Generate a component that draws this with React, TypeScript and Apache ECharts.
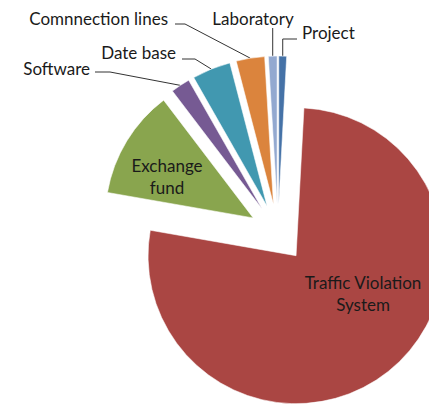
import React, { useEffect, useRef } from 'react';
import * as echarts from 'echarts';

const categories = ['Project', 'Traffic Violation System', 'Exchange fund', 'Software', 'Date base', 'Comnnection lines', 'Laboratory'];
const values = [0.85, 76.9, 11.9, 2.1, 4.2, 3.1, 0.95];
const labelTexts = ['Project', 'Traffic Violation\nSystem', 'Exchange\nfund', 'Software', 'Date base', 'Comnnection lines', 'Laboratory'];
const colors = ['#4572A7', '#AA4643', '#89A54E', '#765A93', '#4198B0', '#DB843D', '#93A9D0'];
const insideLabel = [false, true, true, false, false, false, false];

// layout constants
const CENTER = [278, 233];
const RADIUS = 148;
const EXPLODE = 29;

// label placement (layout only)
const labelPlacement: any[] = [
  { x: 302, y: 32, align: 'left', bendY: 39, endX: 297 },
  { x: 363, y: 293, align: 'center' },
  { x: 167, y: 176, align: 'center' },
  { x: 90, y: 68, align: 'right', bend: [110, 72], end: [95, 72] },
  { x: 176, y: 52, align: 'right', bend: [195, 59], end: [182, 59] },
  { x: 168, y: 18, align: 'right', bend: [185, 24], end: [175, 24] },
  { x: 253, y: 18, align: 'center', bendY: 40, endY: 28 },
];

export default function App() {
  const ref = useRef<HTMLDivElement>(null);
  useEffect(() => {
    const chart = echarts.init(ref.current!, undefined, { renderer: 'svg' });
    const total = values.reduce((a, b) => a + b, 0);
    let cum = 0;
    const series = categories.map((_, k) => {
      const mid = ((cum + values[k] / 2) / total) * 2 * Math.PI;
      cum += values[k];
      const cx = CENTER[0] + EXPLODE * Math.sin(mid);
      const cy = CENTER[1] - EXPLODE * Math.cos(mid);
      const data = categories.map((name, i) => {
        const own = i === k;
        return {
          name,
          value: values[i],
          itemStyle: own
            ? { color: colors[i], borderColor: 'rgba(255,255,255,0.55)', borderWidth: 1 }
            : { color: 'rgba(0,0,0,0)', borderWidth: 0 },
          label: {
            show: own,
            position: insideLabel[i] ? 'inside' : 'outside',
            formatter: labelTexts[i],
          },
          labelLine: { show: own && !insideLabel[i] },
        };
      });
      return {
        type: 'pie',
        center: [cx, cy],
        radius: RADIUS,
        startAngle: 90,
        clockwise: true,
        avoidLabelOverlap: false,
        silent: true,
        label: {
          fontFamily: 'Lato',
          fontSize: 17,
          color: '#1a1a1a',
          lineHeight: 22,
        },
        labelLine: {
          lineStyle: { color: '#333', width: 1 },
          smooth: false,
        },
        labelLayout: (params: any) => {
          if (params.dataIndex !== k) return {};
          const p = labelPlacement[k];
          const out: any = { x: p.x, y: p.y, align: p.align, verticalAlign: 'middle' };
          const pts = params.labelLinePoints;
          if (pts && !insideLabel[k]) {
            const s = pts[0];
            if (p.bend) {
              out.labelLinePoints = [s, p.bend, p.end];
            } else if (p.endX != null) {
              out.labelLinePoints = [s, [s[0], p.bendY], [p.endX, p.bendY]];
            } else {
              out.labelLinePoints = [s, [s[0], p.bendY], [s[0], p.endY]];
            }
          }
          return out;
        },
        data,
      };
    });
    chart.setOption({ animation: false, series });
    return () => chart.dispose();
  }, []);
  return <div ref={ref} style={{ position: 'absolute', left: 0, top: 0, width: 429, height: 406 }} />;
}
